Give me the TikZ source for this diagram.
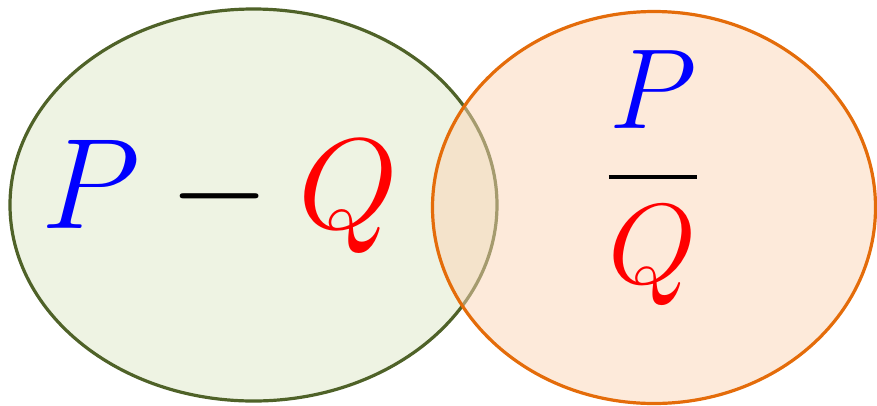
\documentclass[tikz,border=0pt]{standalone}
\usepackage{amsmath}
\definecolor{lborder}{HTML}{4F6228}
\definecolor{lfill}{HTML}{EEF3E3}
\definecolor{rborder}{HTML}{E46C0A}
\definecolor{rfill}{RGB}{251,213,181}
\tikzset{
  setA/.style={draw=lborder, fill=lfill, line width=3.2pt},
  setB/.style={draw=rborder, fill=rfill, fill opacity=0.5, line width=3.2pt},
  mathlabel/.style={inner sep=0pt, anchor=base}
}
\begin{document}
\begin{tikzpicture}[x=1pt,y=-1pt]
\useasboundingbox (0,0) rectangle (877,405);
\path[setA] (253.5,205) ellipse [x radius=243.5, y radius=196];
\path[setB] (654,207.5) ellipse [x radius=221.5, y radius=196];
\node[mathlabel, scale=5.18] (diff) at (220,228) {\Huge ${\color{blue}P} - {\color{red}Q}$};
\node[inner sep=0pt, scale=4.58] (frac) at (653,178) {\Huge $\dfrac{\color{blue}P}{\color{red}Q}$};
\end{tikzpicture}
\end{document}
